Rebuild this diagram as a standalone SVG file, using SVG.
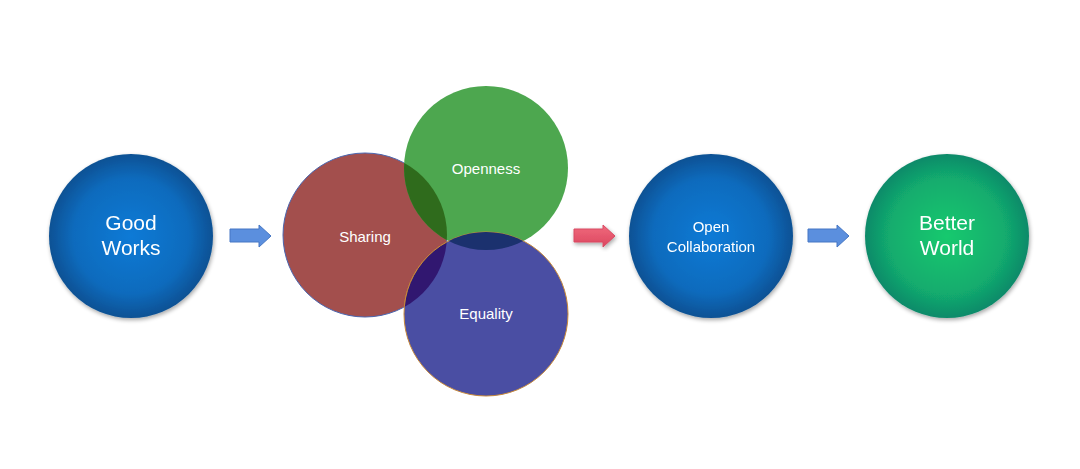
<svg xmlns="http://www.w3.org/2000/svg" width="1080" height="469" viewBox="0 0 1080 469">
<style>
  text { font-family: "Liberation Sans", Arial, sans-serif; fill: #ffffff; text-anchor: middle; }
  .big { font-size: 21px; }
  .small { font-size: 15px; }
</style>
<defs>
  <radialGradient id="gBlue" cx="0.5" cy="0.5" r="0.5">
    <stop offset="0" stop-color="#0b7ad6"/>
    <stop offset="0.7" stop-color="#0a6bbd"/>
    <stop offset="1" stop-color="#0a5194"/>
  </radialGradient>
  <radialGradient id="gGreen" cx="0.5" cy="0.5" r="0.5">
    <stop offset="0" stop-color="#17c96e"/>
    <stop offset="0.7" stop-color="#12ac6e"/>
    <stop offset="1" stop-color="#0f8a6a"/>
  </radialGradient>
  <linearGradient id="gRed" x1="0" y1="0" x2="0" y2="1">
    <stop offset="0" stop-color="#f06a7c"/>
    <stop offset="1" stop-color="#dc4660"/>
  </linearGradient>
  <filter id="shadow" x="-20%" y="-20%" width="140%" height="140%">
    <feGaussianBlur in="SourceAlpha" stdDeviation="2"/>
    <feOffset dx="1" dy="2" result="b"/>
    <feComponentTransfer><feFuncA type="linear" slope="0.35"/></feComponentTransfer>
    <feMerge><feMergeNode/><feMergeNode in="SourceGraphic"/></feMerge>
  </filter>
  <clipPath id="cSharing"><circle cx="365" cy="235" r="82"/></clipPath>
  <clipPath id="cOpen"><circle cx="486" cy="168" r="82"/></clipPath>
  <clipPath id="cEq"><circle cx="486" cy="314" r="82"/></clipPath>
</defs>
<rect width="1080" height="469" fill="#ffffff"/>

<g id="connectors">
  <path d="M230,229 H259 V225 L271,236 L259,247 V242 H230 Z" fill="#5b8fde" stroke="#4677c4" stroke-width="1"/>
  <path d="M574,229 H603 V225 L615,236 L603,247 V242 H574 Z" fill="url(#gRed)" stroke="#d84a62" stroke-width="1" filter="url(#shadow)"/>
  <path d="M808,229 H837 V225 L849,236 L837,247 V242 H808 Z" fill="#5b8fde" stroke="#4677c4" stroke-width="1"/>
</g>

<g id="good-works" filter="url(#shadow)">
  <circle cx="131" cy="236" r="82" fill="url(#gBlue)"/>
  <text class="big" x="131" y="230">Good</text>
  <text class="big" x="131" y="255">Works</text>
</g>

<g id="sharing">
  <circle cx="365" cy="235" r="82" fill="#a34f4d" stroke="#4a66b0" stroke-width="1"/>
</g>
<g id="openness">
  <circle cx="486" cy="168" r="82" fill="#4da74f"/>
</g>
<g id="equality">
  <circle cx="486" cy="314" r="82" fill="#4a4ea3" stroke="#c98a3a" stroke-width="1"/>
</g>
<g id="overlaps">
  <g clip-path="url(#cSharing)"><circle cx="486" cy="168" r="82" fill="#2f6b1c"/></g>
  <g clip-path="url(#cOpen)"><circle cx="486" cy="314" r="82" fill="#1b316e"/></g>
  <g clip-path="url(#cSharing)"><circle cx="486" cy="314" r="82" fill="#311770"/></g>
  <circle cx="486" cy="314" r="82" fill="none" stroke="#c98a3a" stroke-width="1" clip-path="url(#cSharing)"/>
</g>
<g id="labels-venn">
  <text class="small" x="365" y="242">Sharing</text>
  <text class="small" x="486" y="174">Openness</text>
  <text class="small" x="486" y="319">Equality</text>
</g>

<g id="open-collaboration" filter="url(#shadow)">
  <circle cx="711" cy="236" r="82" fill="url(#gBlue)"/>
  <text class="small" x="711" y="232">Open</text>
  <text class="small" x="711" y="252">Collaboration</text>
</g>

<g id="better-world" filter="url(#shadow)">
  <circle cx="947" cy="236" r="82" fill="url(#gGreen)"/>
  <text class="big" x="947" y="230">Better</text>
  <text class="big" x="947" y="255">World</text>
</g>
</svg>
